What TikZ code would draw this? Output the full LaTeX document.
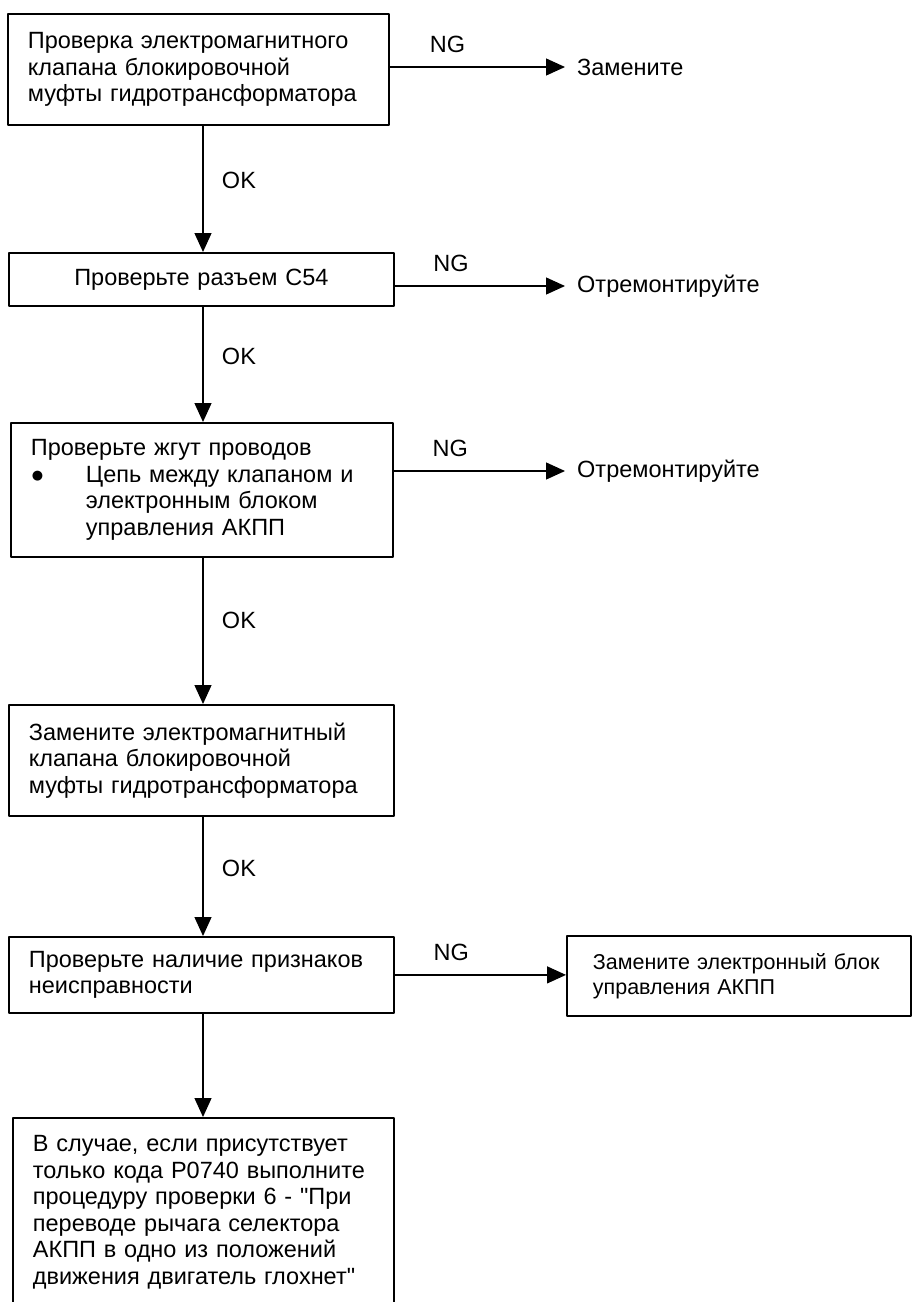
\documentclass[tikz,border=0pt]{standalone}
\usepackage{fontspec}
\setmainfont{Liberation Sans}[Ligatures=TeXOff]
\newfontfamily\dotfont{DejaVu Sans}
\usetikzlibrary{arrows.meta}

\tikzset{
  stepbox/.style={draw, line width=1.8pt, anchor=north west, align=left, inner xsep=20pt, inner ysep=0pt},
  flow/.style={line width=1.3pt, -{Triangle[length=19pt,width=17pt]}},
  dest/.style={anchor=west, inner xsep=12pt},
  ok/.style={right=15pt, pos=.43},
  ng/.style={above=10pt, pos=.33},
}

\begin{document}
\begin{tikzpicture}[x=1pt, y=-1pt, line join=round, font=\fontsize{23.5}{26.5}\selectfont]
\useasboundingbox (0,0) rectangle (920,1302);
\clip (0,0) rectangle (920,1302);
\coordinate (axis) at (203,0);
% boxes of the main line
\node[stepbox, text width=341pt, minimum height=111pt] (sol) at (7,13)
  {Проверка электромагнитного\\клапана блокировочной\\муфты гидротрансформатора};
\node[stepbox, text width=345pt, minimum height=53pt, align=center] (conn) at (8,252)
  {Проверьте разъем C54};
\node[stepbox, text width=342pt, minimum height=134pt] (harn) at (10,422)
  {Проверьте жгут проводов\\
   \makebox[55pt][l]{\hspace*{1pt}\raisebox{3pt}{\dotfont\fontsize{13}{13}\selectfont ●}}Цепь между клапаном и\\
   \hspace*{55pt}электронным блоком\\
   \hspace*{55pt}управления АКПП};
\node[stepbox, text width=345pt, minimum height=111pt] (swap) at (8,704)
  {Замените электромагнитный\\клапана блокировочной\\муфты гидротрансформатора};
\node[stepbox, text width=345pt, minimum height=76pt] (symp) at (8,936)
  {Проверьте наличие признаков\\неисправности};
\node[stepbox, text width=341pt, minimum height=189pt] (proc) at (12,1117)
  {В случае, если присутствует\\только кода P0740 выполните\\процедуру проверки 6 - "При\\переводе рычага селектора\\АКПП в одно из положений\\движения двигатель глохнет"};
% side results
\node[stepbox, text width=292pt, inner xsep=26pt, minimum height=80pt,
  font=\fontsize{21.5}{25}\selectfont] (ecu) at (566,935)
  {Замените электронный блок\\управления АКПП};
\node[dest] (rep1) at (565,67) {Замените};
\node[dest] (rep2) at (565,286) {Отремонтируйте};
\node[dest] (rep3) at (565,471) {Отремонтируйте};
% OK arrows
\draw[flow] (sol.south -| axis) -- (conn.north -| axis) node[ok] {OK};
\draw[flow] (conn.south -| axis) -- (harn.north -| axis) node[ok] {OK};
\draw[flow] (harn.south -| axis) -- (swap.north -| axis) node[ok] {OK};
\draw[flow] (swap.south -| axis) -- (symp.north -| axis) node[ok] {OK};
\draw[flow] (symp.south -| axis) -- (proc.north -| axis);
% NG arrows
\draw[flow] (sol.east |- rep1) -- (rep1) node[ng] {NG};
\draw[flow] (conn.east |- rep2) -- (rep2) node[ng] {NG};
\draw[flow] (harn.east |- rep3) -- (rep3) node[ng] {NG};
\draw[flow] (symp.east) -- (ecu.west |- symp.east) node[ng] {NG};
\end{tikzpicture}
\end{document}
